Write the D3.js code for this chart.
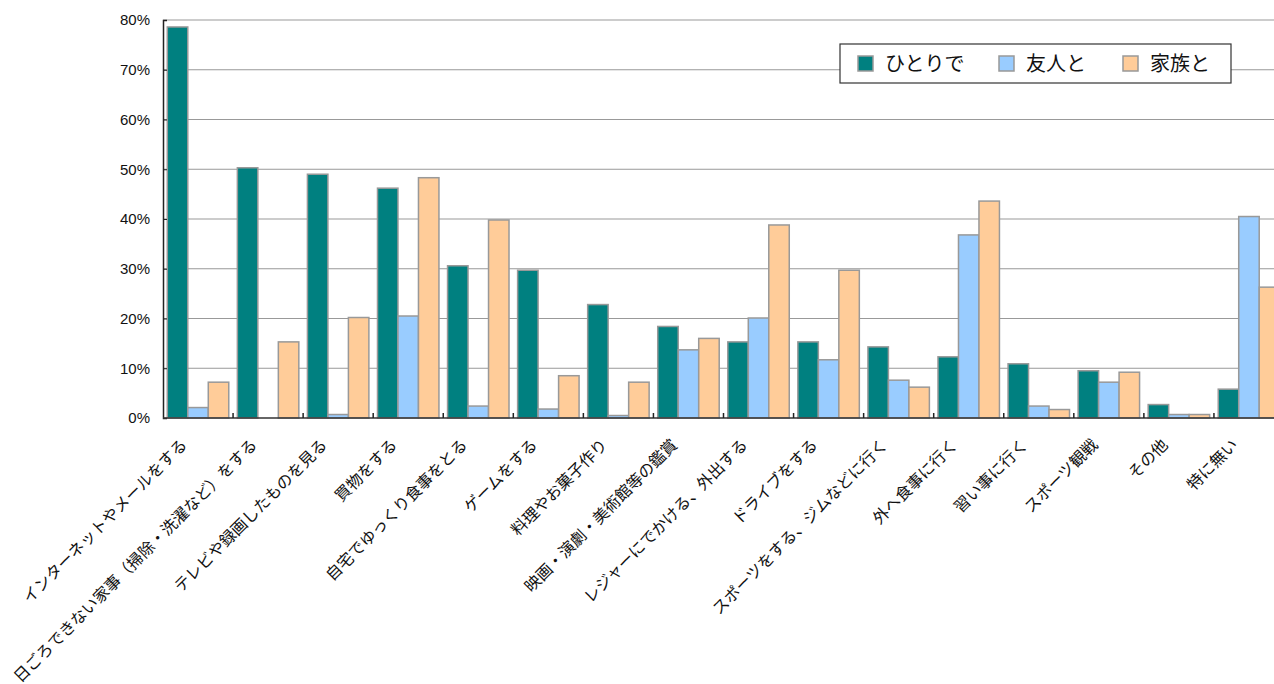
<!DOCTYPE html>
<html>
<head>
<meta charset="utf-8">
<script src="https://cdn.jsdelivr.net/npm/d3@7"></script>
<style>
  body { margin: 0; background: #fff; }
  svg { display: block; }
</style>
</head>
<body>
<div id="chart"></div>
<script>
// 項目
const categories = [
  "インターネットやメールをする",
  "日ごろできない家事（掃除・洗濯など）をする",
  "テレビや録画したものを見る",
  "買物をする",
  "自宅でゆっくり食事をとる",
  "ゲームをする",
  "料理やお菓子作り",
  "映画・演劇・美術館等の鑑賞",
  "レジャーにでかける、外出する",
  "ドライブをする",
  "スポーツをする、ジムなどに行く",
  "外へ食事に行く",
  "習い事に行く",
  "スポーツ観戦",
  "その他",
  "特に無い"
];

const seriesNames = ["ひとりで", "友人と", "家族と"];

// 値（%）
const alone   = [78.6, 50.3, 49.0, 46.2, 30.6, 29.7, 22.8, 18.4, 15.3, 15.3, 14.3, 12.3, 10.9, 9.5, 2.7, 5.8];
const friends = [2.1, 0, 0.7, 20.5, 2.4, 1.8, 0.5, 13.7, 20.1, 11.7, 7.6, 36.8, 2.4, 7.2, 0.7, 40.5];
const family  = [7.2, 15.3, 20.2, 48.3, 39.8, 8.5, 7.2, 16.0, 38.8, 29.7, 6.2, 43.6, 1.7, 9.2, 0.7, 26.3];

const yTicks = [0, 10, 20, 30, 40, 50, 60, 70, 80];

const colors = ["#008080", "#99ccff", "#ffcc99"];

const width = 1274;
const height = 684;
const plot = { left: 163, right: 1284, top: 20, bottom: 418 };

const svg = d3.select("#chart")
  .append("svg")
  .attr("width", width)
  .attr("height", height);

const x0 = d3.scaleBand()
  .domain(categories)
  .range([plot.left, plot.right]);

const x1 = d3.scaleBand()
  .domain(seriesNames)
  .range([4.3, x0.bandwidth() - 4.3]);

const y = d3.scaleLinear()
  .domain([0, 80])
  .range([plot.bottom, plot.top]);

// グリッド線
svg.append("g")
  .selectAll("line")
  .data(yTicks.filter(d => d > 0))
  .join("line")
  .attr("x1", plot.left)
  .attr("x2", width)
  .attr("y1", d => y(d))
  .attr("y2", d => y(d))
  .attr("stroke", "#999")
  .attr("stroke-width", 1);

// 棒
const rows = categories.map((c, i) => ({ cat: c, vals: [alone[i], friends[i], family[i]] }));

const groups = svg.append("g")
  .selectAll("g")
  .data(rows)
  .join("g")
  .attr("transform", d => `translate(${x0(d.cat)},0)`);

groups.selectAll("rect")
  .data(d => d.vals.map((v, k) => ({ name: seriesNames[k], v, k })))
  .join("rect")
  .attr("x", d => x1(d.name))
  .attr("width", x1.bandwidth())
  .attr("y", d => y(d.v))
  .attr("height", d => y(0) - y(d.v))
  .attr("fill", d => colors[d.k])
  .attr("stroke", d => d.v > 0 ? "#999" : "none")
  .attr("stroke-width", 1.5);

// 軸
const yAxis = svg.append("g")
  .attr("transform", `translate(${plot.left},0)`)
  .call(d3.axisLeft(y).tickValues(yTicks).tickSize(-4).tickPadding(13).tickFormat(d => d + "%"));
yAxis.select(".domain").attr("stroke", "#222").attr("stroke-width", 1.5);
yAxis.selectAll(".tick line").attr("stroke", "#222");
yAxis.selectAll("text")
  .attr("font-family", "'Liberation Sans', Arial, sans-serif")
  .attr("font-size", 15)
  .attr("fill", "#111");

svg.append("line")
  .attr("x1", plot.left)
  .attr("x2", width)
  .attr("y1", y(0))
  .attr("y2", y(0))
  .attr("stroke", "#333")
  .attr("stroke-width", 1.5);

svg.append("g")
  .selectAll("line")
  .data(categories.slice(1))
  .join("line")
  .attr("x1", d => x0(d))
  .attr("x2", d => x0(d))
  .attr("y1", y(0))
  .attr("y2", y(0) - 5)
  .attr("stroke", "#222")
  .attr("stroke-width", 1.5);

// 項目ラベル
svg.append("g")
  .selectAll("text")
  .data(categories)
  .join("text")
  .attr("transform", d => `translate(${x0(d) + x0.bandwidth() / 2 - 14},${plot.bottom + 24}) rotate(-45)`)
  .attr("text-anchor", "end")
  .attr("dy", "0.35em")
  .attr("font-family", "'Noto Sans CJK JP', sans-serif")
  .attr("font-size", 16)
  .attr("fill", "#111")
  .text(d => d);

// 凡例
const legend = svg.append("g").attr("transform", "translate(840,44)");
legend.append("rect")
  .attr("width", 391)
  .attr("height", 39)
  .attr("fill", "#fff")
  .attr("stroke", "#333")
  .attr("stroke-width", 1.2);

const legendX = [18, 159, 283];
const items = legend.selectAll("g.item")
  .data(seriesNames)
  .join("g")
  .attr("class", "item")
  .attr("transform", (d, i) => `translate(${legendX[i]},0)`);

items.append("rect")
  .attr("x", 0)
  .attr("y", 12)
  .attr("width", 15)
  .attr("height", 15)
  .attr("fill", (d, i) => colors[i])
  .attr("stroke", "#999")
  .attr("stroke-width", 1.5);

items.append("text")
  .attr("x", 27)
  .attr("y", 20)
  .attr("dy", "0.36em")
  .attr("font-family", "'Noto Sans CJK JP', sans-serif")
  .attr("font-size", 20)
  .attr("fill", "#111")
  .text(d => d);
</script>
</body>
</html>
